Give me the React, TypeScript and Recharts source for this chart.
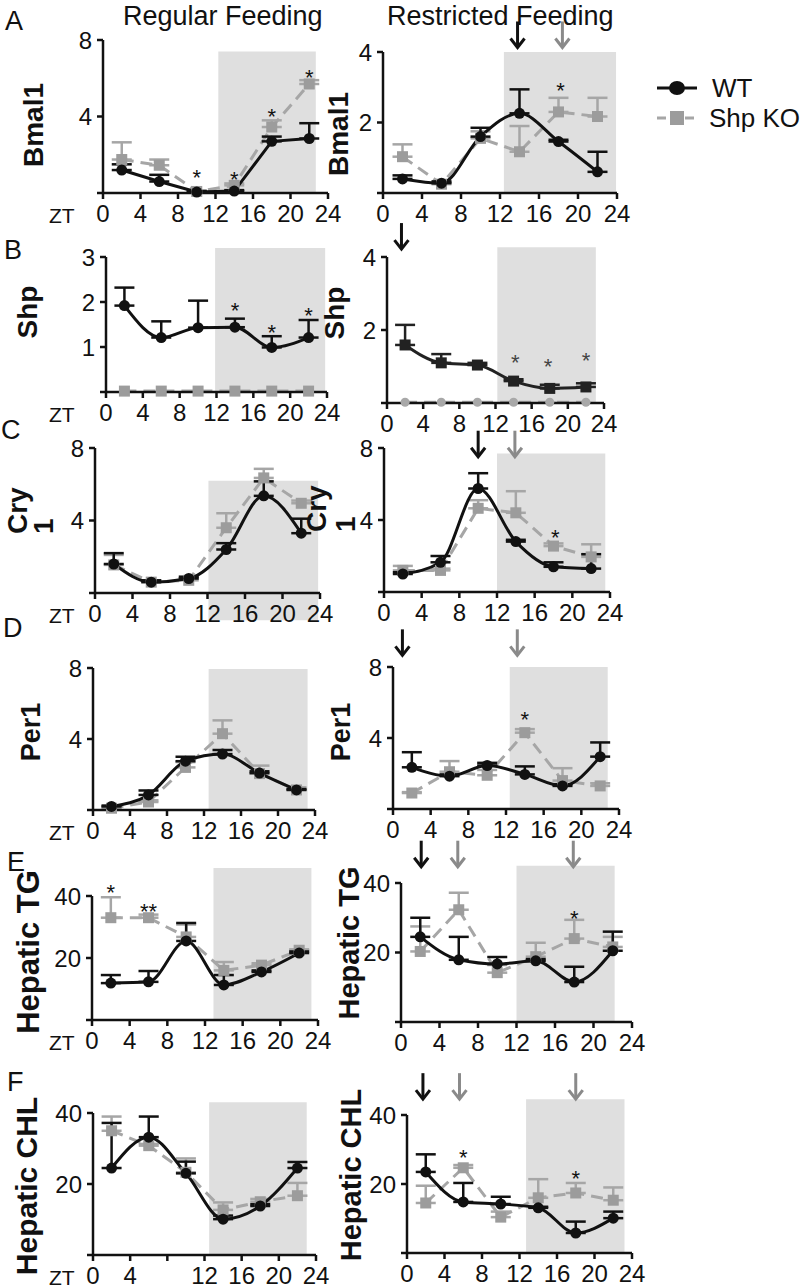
import React from "react";
import {
  ComposedChart,
  Line,
  XAxis,
  YAxis,
  ErrorBar,
  ReferenceArea,
  ReferenceDot,
  Legend,
} from "recharts";

const FONT = "'Liberation Sans', Arial, Helvetica, sans-serif";
const BLACK = "#111";
const GRAY = "#a6a6a6";
const ARROW_GRAY = "#8a8a8a";

// sampling times (ZT hours) and axis ticks
const ZT = [2, 6, 10, 14, 18, 22];
const X_TICKS = [0, 4, 8, 12, 16, 20, 24];

// A - Bmal1
const bmalRegWT = [1.2, 0.6, 0.05, 0.1, 2.7, 2.85];
const bmalRegWTErr = [0.3, 0.35, 0.05, 0.05, 0.25, 0.8];
const bmalRegKO = [1.75, 1.45, 0.08, 0.4, 3.45, 5.7];
const bmalRegKOErr = [0.9, 0.3, 0.05, 0.1, 0.35, 0.2];
const bmalRegStarZT = [10, 14, 18, 22];
const bmalRegStarY = [1.05, 0.94, 4.25, 6.3];

const bmalResWT = [0.4, 0.28, 1.6, 2.26, 1.46, 0.6];
const bmalResWTErr = [0.1, 0.05, 0.25, 0.68, 0.05, 0.57];
const bmalResKO = [1.03, 0.25, 1.55, 1.17, 2.3, 2.17];
const bmalResKOErr = [0.35, 0.05, 0.2, 0.73, 0.4, 0.53];
const bmalResStarZT = [18.2];
const bmalResStarY = [3.04];
const bmalResArrowZT = [13.8, 18.4];

// B - Shp
const shpRegWT = [1.92, 1.21, 1.43, 1.44, 0.99, 1.21];
const shpRegWTErr = [0.4, 0.36, 0.6, 0.19, 0.25, 0.39];
const shpRegKO = [0.02, 0.02, 0.02, 0.02, 0.02, 0.02];
const shpRegKOErr = [0, 0, 0, 0, 0, 0];
const shpRegStarZT = [14, 18, 22];
const shpRegStarY = [1.92, 1.43, 1.81];

const shpResWT = [1.59, 1.1, 1.04, 0.6, 0.4, 0.44];
const shpResWTErr = [0.55, 0.24, 0.06, 0.05, 0.1, 0.1];
const shpResKO = [0.02, 0.02, 0.02, 0.02, 0.02, 0.02];
const shpResKOErr = [0, 0, 0, 0, 0, 0];
const shpResStarZT = [14.2, 17.8, 22];
const shpResStarY = [1.23, 1.12, 1.29];
const shpResArrowZT = [1.6];

// C - Cry1
const cryRegWT = [1.6, 0.6, 0.8, 2.4, 5.36, 3.3];
const cryRegWTErr = [0.6, 0.1, 0.1, 0.35, 0.8, 0.8];
const cryRegKO = [1.55, 0.6, 0.7, 3.6, 6.35, 4.95];
const cryRegKOErr = [0.55, 0.1, 0.1, 0.8, 0.5, 0.15];

const cryResWT = [1.0, 1.65, 5.75, 2.8, 1.4, 1.3];
const cryResWTErr = [0.1, 0.35, 0.85, 0.1, 0.25, 0.8];
const cryResKO = [1.2, 1.2, 4.65, 4.4, 2.55, 1.95];
const cryResKOErr = [0.25, 0.1, 0.45, 1.2, 0.15, 0.7];
const cryResStarZT = [18.2];
const cryResStarY = [3.3];
const cryResArrowZT = [10, 13.9];

// D - Per1
const perRegWT = [0.2, 0.85, 2.75, 3.15, 2.08, 1.13];
const perRegWTErr = [0.05, 0.25, 0.25, 0.23, 0.1, 0.05];
const perRegKO = [0.1, 0.45, 2.4, 4.3, 2.05, 1.13];
const perRegKOErr = [0.05, 0.1, 0.3, 0.75, 0.45, 0.15];

const perResWT = [2.35, 1.85, 2.45, 1.95, 1.3, 2.95];
const perResWTErr = [0.85, 0.1, 0.15, 0.45, 0.1, 0.8];
const perResKO = [0.9, 2.1, 1.9, 4.3, 1.6, 1.3];
const perResKOErr = [0.05, 0.6, 0.3, 0.2, 0.7, 0.15];
const perResStarZT = [14];
const perResStarY = [5.3];
const perResArrowZT = [1.0, 13.2];

// E - hepatic TG
const tgRegWT = [11.9, 12.3, 25.5, 11.3, 15.5, 21.6];
const tgRegWTErr = [2.6, 3.5, 5.8, 3.2, 0.5, 0.5];
const tgRegKO = [33, 33, 26.8, 16, 17.7, 22.5];
const tgRegKOErr = [6.6, 1, 4, 2.7, 0.6, 0.3];
const tgRegStarZT = [2, 6];
const tgRegStarY = [42.5, 36.5];
const tgRegStarText = ["*", "**"];

const tgResWT = [24.5, 17.9, 16.7, 17.6, 11.5, 20.5];
const tgResWTErr = [5.5, 6.6, 2.0, 0.5, 4.4, 5.5];
const tgResKO = [20.3, 32.3, 14.2, 18.8, 24, 21.6];
const tgResKOErr = [7.2, 4.9, 2.2, 4.0, 5.4, 2.9];
const tgResStarZT = [18];
const tgResStarY = [31];
const tgResArrowZT = [2.1, 5.9, 17.9];

// F - hepatic CHL
const chlRegWT = [24.5, 33.2, 23, 10.1, 13.8, 24.5];
const chlRegWTErr = [12.7, 5.8, 3.3, 1, 0.5, 1.7];
const chlRegKO = [35, 30.8, 23.3, 12.7, 15, 16.7];
const chlRegKOErr = [4, 0.5, 3.9, 2.1, 0.8, 3.6];

const chlResWT = [23.5, 14.8, 14.2, 13.1, 5.8, 10.1];
const chlResWTErr = [5.1, 5.5, 2.1, 0.3, 3.3, 1.9];
const chlResKO = [14.5, 24.7, 10.4, 16, 17.4, 15.3];
const chlResKOErr = [5, 0.8, 1.6, 5.4, 2.9, 3.7];
const chlResStarZT = [6, 18];
const chlResStarY = [29, 23];
const chlResArrowZT = [1.7, 5.6, 18];

type Curve = "linear" | "monotone";

interface PanelSpec {
  id: string;
  x0: number;
  x24: number;
  yTop: number;
  yBot: number;
  yMax: number;
  yTicks: number[];
  wt: number[];
  wtErr: number[];
  ko: number[];
  koErr: number[];
  shade: [number, number, number, number];
  starZT?: number[];
  starY?: number[];
  starText?: string[];
  starColor?: string;
  arrowZT?: number[];
  arrowTip?: number;
  title: { lines: string[]; bx: number[]; cy: number; fs: number; anchor: "middle" | "start" };
  zt?: boolean;
  wtCurve?: Curve;
  koCurve?: Curve;
  swapMarkers?: boolean;
  hideXTick?: number[];
  legend?: boolean;
}

const PANELS: PanelSpec[] = [
  {
    id: "A-reg", x0: 103, x24: 328, yTop: 40, yBot: 193, yMax: 8, yTicks: [0, 4, 8],
    wt: bmalRegWT, wtErr: bmalRegWTErr, ko: bmalRegKO, koErr: bmalRegKOErr,
    shade: [12.3, 22.7, 0, 7.4],
    starZT: bmalRegStarZT, starY: bmalRegStarY,
    title: { lines: ["Bmal1"], bx: [43], cy: 125, fs: 28, anchor: "middle" },
    zt: true, wtCurve: "linear", koCurve: "linear",
  },
  {
    id: "A-res", x0: 383, x24: 617, yTop: 52, yBot: 193, yMax: 4, yTicks: [0, 2, 4],
    wt: bmalResWT, wtErr: bmalResWTErr, ko: bmalResKO, koErr: bmalResKOErr,
    shade: [12.4, 23.9, 0, 4],
    starZT: bmalResStarZT, starY: bmalResStarY,
    arrowZT: bmalResArrowZT, arrowTip: 4.1,
    title: { lines: ["Bmal1"], bx: [348], cy: 134, fs: 28, anchor: "middle" },
    legend: true,
  },
  {
    id: "B-reg", x0: 106, x24: 327, yTop: 257, yBot: 392, yMax: 3, yTicks: [0, 1, 2, 3],
    wt: shpRegWT, wtErr: shpRegWTErr, ko: shpRegKO, koErr: shpRegKOErr,
    shade: [11.85, 23.8, 0, 3.2],
    starZT: shpRegStarZT, starY: shpRegStarY,
    title: { lines: ["Shp"], bx: [37], cy: 312, fs: 28, anchor: "middle" },
    zt: true,
  },
  {
    id: "B-res", x0: 387, x24: 604, yTop: 257, yBot: 403, yMax: 4, yTicks: [0, 2, 4],
    wt: shpResWT, wtErr: shpResWTErr, ko: shpResKO, koErr: shpResKOErr,
    shade: [12.2, 23.1, 0, 4.27],
    starZT: shpResStarZT, starY: shpResStarY, starColor: "#444",
    arrowZT: shpResArrowZT, arrowTip: 4.19,
    title: { lines: ["Shp"], bx: [344], cy: 313, fs: 28, anchor: "middle" },
    swapMarkers: true,
  },
  {
    id: "C-reg", x0: 95, x24: 320, yTop: 448, yBot: 593, yMax: 8, yTicks: [0, 4, 8],
    wt: cryRegWT, wtErr: cryRegWTErr, ko: cryRegKO, koErr: cryRegKOErr,
    shade: [12.1, 23.8, -1.5, 6.2],
    title: { lines: ["Cry", "1"], bx: [27, 53], cy: 534, fs: 28, anchor: "start" },
    zt: true,
  },
  {
    id: "C-res", x0: 384, x24: 610, yTop: 448, yBot: 592, yMax: 8, yTicks: [0, 4, 8],
    wt: cryResWT, wtErr: cryResWTErr, ko: cryResKO, koErr: cryResKOErr,
    shade: [12, 23.5, 0, 7.7],
    starZT: cryResStarZT, starY: cryResStarY,
    arrowZT: cryResArrowZT, arrowTip: 7.46,
    title: { lines: ["Cry", "1"], bx: [326, 355], cy: 532, fs: 28, anchor: "start" },
  },
  {
    id: "D-reg", x0: 93, x24: 315, yTop: 668, yBot: 810, yMax: 8, yTicks: [0, 4, 8],
    wt: perRegWT, wtErr: perRegWTErr, ko: perRegKO, koErr: perRegKOErr,
    shade: [12.5, 23.2, 0, 7.95],
    title: { lines: ["Per1"], bx: [40], cy: 732, fs: 27, anchor: "middle" },
    zt: true,
  },
  {
    id: "D-res", x0: 393, x24: 619, yTop: 667, yBot: 809, yMax: 8, yTicks: [0, 4, 8],
    wt: perResWT, wtErr: perResWTErr, ko: perResKO, koErr: perResKOErr,
    shade: [12.4, 22.8, 0, 8],
    starZT: perResStarZT, starY: perResStarY,
    arrowZT: perResArrowZT, arrowTip: 8.6,
    title: { lines: ["Per1"], bx: [350], cy: 732, fs: 27, anchor: "middle" },
  },
  {
    id: "E-reg", x0: 92, x24: 318, yTop: 896, yBot: 1020, yMax: 40, yTicks: [0, 20, 40],
    wt: tgRegWT, wtErr: tgRegWTErr, ko: tgRegKO, koErr: tgRegKOErr,
    shade: [12.9, 23.3, 0, 49],
    starZT: tgRegStarZT, starY: tgRegStarY, starText: tgRegStarText,
    title: { lines: ["Hepatic TG"], bx: [39], cy: 952, fs: 31, anchor: "middle" },
    zt: true,
  },
  {
    id: "E-res", x0: 401, x24: 632, yTop: 883, yBot: 1022, yMax: 40, yTicks: [0, 20, 40],
    wt: tgResWT, wtErr: tgResWTErr, ko: tgResKO, koErr: tgResKOErr,
    shade: [12, 22.2, 0, 45],
    starZT: tgResStarZT, starY: tgResStarY,
    arrowZT: tgResArrowZT, arrowTip: 44.4,
    title: { lines: ["Hepatic TG"], bx: [359], cy: 943, fs: 29, anchor: "middle" },
  },
  {
    id: "F-reg", x0: 93, x24: 316, yTop: 1113, yBot: 1255, yMax: 40, yTicks: [0, 20, 40],
    wt: chlRegWT, wtErr: chlRegWTErr, ko: chlRegKO, koErr: chlRegKOErr,
    shade: [12.5, 23, 0, 43],
    title: { lines: ["Hepatic CHL"], bx: [37], cy: 1186, fs: 30, anchor: "middle" },
    zt: true, hideXTick: [8],
  },
  {
    id: "F-res", x0: 407, x24: 632, yTop: 1115, yBot: 1253, yMax: 40, yTicks: [0, 20, 40],
    wt: chlResWT, wtErr: chlResWTErr, ko: chlResKO, koErr: chlResKOErr,
    shade: [12.7, 23.2, 0, 44.6],
    starZT: chlResStarZT, starY: chlResStarY,
    arrowZT: chlResArrowZT, arrowTip: 44.3,
    title: { lines: ["Hepatic CHL"], bx: [361], cy: 1175, fs: 29, anchor: "middle" },
  },
];

const HEADINGS = [
  { text: "Regular Feeding", x: 123, base: 26 },
  { text: "Restricted Feeding", x: 387, base: 26 },
];
const LETTERS: [string, number, number][] = [
  ["A", 5, 31],
  ["B", 4, 260],
  ["C", 1, 440],
  ["D", 3, 638],
  ["E", 7, 872],
  ["F", 7, 1092],
];

function YTitle(props: any) {
  const { tLines, tBx, tCy, tFs, tAnchor } = props;
  return (
    <g>
      {tLines.map((t: string, i: number) => (
        <text
          key={i}
          x={tBx[i]}
          y={tCy}
          transform={`rotate(-90 ${tBx[i]} ${tCy})`}
          textAnchor={tAnchor}
          fontFamily={FONT}
          fontWeight="bold"
          fontSize={tFs}
          fill={BLACK}
        >
          {t}
        </text>
      ))}
    </g>
  );
}

function ZTLabel(props: any) {
  const vb = props.viewBox ?? { y: 0 };
  return (
    <text x={49} y={vb.y + 30} fontFamily={FONT} fontSize={21} fill={BLACK}>
      ZT
    </text>
  );
}

const circleDot = (fill: string, r: number) => (props: any) => (
  <circle key={`c-${props.index}`} cx={props.cx} cy={props.cy} r={r} fill={fill} />
);
const squareDot = (fill: string, s: number) => (props: any) => (
  <rect
    key={`s-${props.index}`}
    x={props.cx - s / 2}
    y={props.cy - s / 2}
    width={s}
    height={s}
    fill={fill}
  />
);

function arrowShape(color: string) {
  return (p: any) => (
    <g stroke={color} strokeWidth={3} fill="none" strokeLinecap="butt">
      <line x1={p.cx} y1={p.cy - 27} x2={p.cx} y2={p.cy - 2} />
      <polyline points={`${p.cx - 7},${p.cy - 10} ${p.cx},${p.cy - 1} ${p.cx + 7},${p.cy - 10}`} />
    </g>
  );
}

function starShape(text: string, color: string) {
  return (p: any) => (
    <text
      x={p.cx}
      y={p.cy + 12}
      textAnchor="middle"
      fontFamily={FONT}
      fontSize={22}
      fill={color}
    >
      {text}
    </text>
  );
}

function LegendBox(props: any) {
  const items = (props.payload ?? [])
    .filter((e: any) => e.value === "WT" || e.value === "Shp KO")
    .sort((a: any) => (a.value === "WT" ? -1 : 1));
  return (
    <div style={{ fontFamily: FONT, color: BLACK }}>
      {items.map((e: any) => (
        <div key={e.value} style={{ display: "flex", alignItems: "center", height: 30 }}>
          <svg width={50} height={24}>
            {e.value === "WT" ? (
              <>
                <line x1={0} y1={12} x2={40} y2={12} stroke={BLACK} strokeWidth={3} />
                <ellipse cx={20} cy={12} rx={8} ry={7} fill={BLACK} />
              </>
            ) : (
              <>
                <line x1={0} y1={12} x2={42} y2={12} stroke={GRAY} strokeWidth={3} strokeDasharray="9 5" />
                <rect x={13} y={5} width={14} height={14} fill="#9c9c9c" />
              </>
            )}
          </svg>
          <span style={{ fontSize: 26, marginLeft: 5, whiteSpace: "nowrap" }}>{e.value}</span>
        </div>
      ))}
    </div>
  );
}

const MT = 60;
const MB = 50;
const YW = 50;

function Panel({ p }: { p: PanelSpec }) {
  const top = p.yTop - MT;
  const height = MT + (p.yBot - p.yTop) + MB;
  const rows = ZT.map((zt, i) => ({
    zt,
    wt: p.wt[i],
    wtErr: [0, p.wtErr[i]],
    ko: p.ko[i],
    koErr: [0, p.koErr[i]],
  }));
  const hasKOErr = p.koErr.some((v) => v > 0);
  const wtColor = p.swapMarkers ? "#222" : BLACK;
  const tick = { fontSize: 24, fill: BLACK, fontFamily: FONT };
  const axisLine = { stroke: BLACK, strokeWidth: 2.5 };

  return (
    <div style={{ position: "absolute", left: 0, top }}>
      <ComposedChart
        width={800}
        height={height}
        data={rows}
        margin={{ top: MT, right: 800 - p.x24, bottom: 0, left: p.x0 - YW }}
      >
        <XAxis
          dataKey="zt"
          type="number"
          domain={[0, 24]}
          ticks={X_TICKS}
          interval={0}
          height={MB}
          tick={tick}
          tickSize={6}
          tickMargin={6}
          axisLine={axisLine}
          tickLine={axisLine}
          tickFormatter={(v) => (p.hideXTick?.includes(v) ? "" : String(v))}
          label={p.zt ? <ZTLabel /> : undefined}
        />
        <YAxis
          type="number"
          domain={[0, p.yMax]}
          ticks={p.yTicks}
          interval={0}
          width={YW}
          tick={tick}
          tickSize={6}
          tickMargin={5}
          axisLine={axisLine}
          tickLine={axisLine}
          tickFormatter={(v) => (v === 0 ? "" : String(v))}
          label={
            <YTitle
              tLines={p.title.lines}
              tBx={p.title.bx}
              tCy={p.title.cy - top}
              tFs={p.title.fs}
              tAnchor={p.title.anchor}
            />
          }
        />
        <ReferenceArea
          x1={p.shade[0]}
          x2={p.shade[1]}
          y1={p.shade[2]}
          y2={p.shade[3]}
          ifOverflow="visible"
          fill="#b0b0b0"
          fillOpacity={0.4}
          stroke="none"
        />
        <Line
          dataKey="ko"
          name="Shp KO"
          type={p.koCurve ?? "linear"}
          stroke={GRAY}
          strokeWidth={3}
          strokeDasharray="12 7"
          dot={p.swapMarkers ? circleDot("#a8a8a8", 4.5) : squareDot("#9c9c9c", 11)}
          activeDot={false}
          isAnimationActive={false}
        >
          {hasKOErr && (
            <ErrorBar dataKey="koErr" direction="y" width={10} strokeWidth={2.5} stroke={GRAY} />
          )}
        </Line>
        <Line
          dataKey="wt"
          name="WT"
          type={p.wtCurve ?? "monotone"}
          stroke={wtColor}
          strokeWidth={3}
          dot={p.swapMarkers ? squareDot(wtColor, 11) : circleDot(wtColor, 5.5)}
          activeDot={false}
          isAnimationActive={false}
        >
          <ErrorBar dataKey="wtErr" direction="y" width={10} strokeWidth={2.5} stroke={wtColor} />
        </Line>
        {(p.starZT ?? []).map((zt, i) => (
          <ReferenceDot
            key={`star-${i}`}
            x={zt}
            y={(p.starY ?? [])[i]}
            r={0}
            ifOverflow="visible"
            shape={starShape((p.starText ?? [])[i] ?? "*", p.starColor ?? BLACK)}
          />
        ))}
        {(p.arrowZT ?? []).map((zt, i) => (
          <ReferenceDot
            key={`arrow-${i}`}
            x={zt}
            y={p.arrowTip}
            r={0}
            ifOverflow="visible"
            shape={arrowShape(i === 0 ? BLACK : ARROW_GRAY)}
          />
        ))}
        {p.legend && (
          <Legend
            layout="vertical"
            align="center"
            verticalAlign="middle"
            content={<LegendBox />}
            wrapperStyle={{ left: 657, top: 73 - top, width: 143, height: 60 }}
          />
        )}
      </ComposedChart>
    </div>
  );
}

function Txt({ text, x, base, fs }: { text: string; x: number; base: number; fs: number }) {
  return (
    <div
      style={{
        position: "absolute",
        left: x,
        top: base - 0.8465 * fs,
        fontSize: fs,
        lineHeight: `${fs}px`,
        fontFamily: FONT,
        color: BLACK,
        whiteSpace: "nowrap",
      }}
    >
      {text}
    </div>
  );
}

export default function App() {
  return (
    <div
      style={{
        position: "absolute",
        left: 0,
        top: 0,
        width: 800,
        height: 1288,
        overflow: "hidden",
        background: "#fff",
      }}
    >
      {PANELS.map((p) => (
        <Panel key={p.id} p={p} />
      ))}
      {HEADINGS.map((h) => (
        <Txt key={h.text} text={h.text} x={h.x} base={h.base} fs={27} />
      ))}
      {LETTERS.map(([t, x, b]) => (
        <Txt key={t} text={t} x={x} base={b} fs={27} />
      ))}
    </div>
  );
}
